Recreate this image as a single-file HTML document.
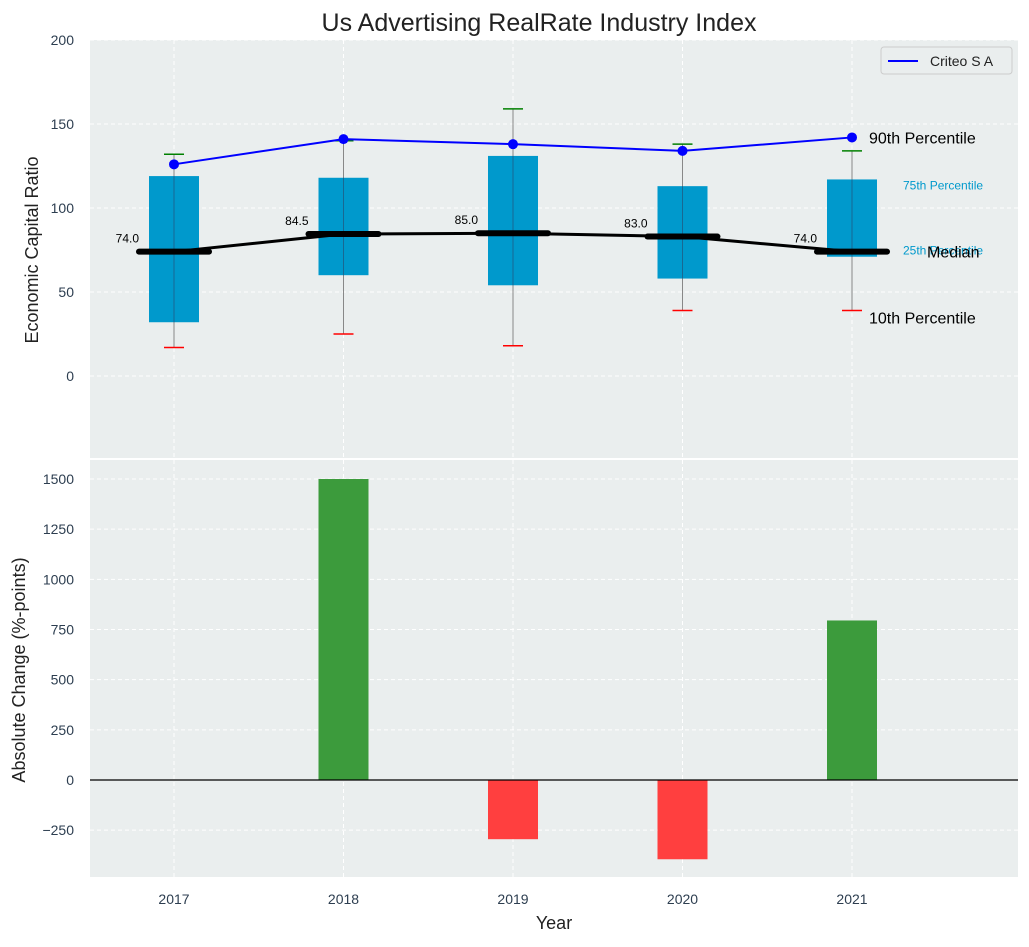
<!DOCTYPE html>
<html><head><meta charset="utf-8"><style>
body{margin:0;background:#fff;font-family:"Liberation Sans","DejaVu Sans",sans-serif;}
</style></head><body>
<svg id="c" width="1029" height="942" xmlns="http://www.w3.org/2000/svg"></svg>
<script>
const years=[2017,2018,2019,2020,2021];
const q10=[17,25,18,39,39];
const q25=[32,60,54,58,71];
const medians=[74,84.5,85,83,74];
const q75=[119,118,131,113,117];
const q90=[132,140,159,138,134];
const criteo=[126,141,138,134,142];
const changes=[0,1500,-295,-395,795];
const topTicks=[0,50,100,150,200];
const botTicks=[-250,0,250,500,750,1000,1250,1500];
const NS="http://www.w3.org/2000/svg";
const svg=document.getElementById('c');
function el(t,a,txt){const e=document.createElementNS(NS,t);for(const k in a)e.setAttribute(k,a[k]);if(txt!==undefined)e.textContent=txt;svg.appendChild(e);return e;}
const L=90,R=1018;
const x=v=>174+(v-2017)*169.5;
const yT=v=>376-v*1.68;
const yB=v=>780-v*(301/1500);
let e;
e=el('rect',{x:L,y:40,width:R-L,height:418,fill:'#eaeeee'});

e=el('rect',{x:L,y:460,width:R-L,height:417,fill:'#eaeeee'});

topTicks.forEach(t=>{el('line',{x1:L,x2:R,y1:yT(t),y2:yT(t),stroke:'#fff','stroke-dasharray':'4,3'});
 e=el('text',{x:74,y:yT(t)+5,'text-anchor':'end','font-size':14,fill:'#2d3e50'},t);
 });
botTicks.forEach(t=>{el('line',{x1:L,x2:R,y1:yB(t),y2:yB(t),stroke:'#fff','stroke-dasharray':'4,3'});
 e=el('text',{x:74,y:yB(t)+5,'text-anchor':'end','font-size':14,fill:'#2d3e50'},t<0?'\u2212'+(-t):t);
 });
years.forEach(yr=>{el('line',{x1:x(yr),x2:x(yr),y1:40,y2:458,stroke:'#fff','stroke-dasharray':'4,3'});
 el('line',{x1:x(yr),x2:x(yr),y1:460,y2:877,stroke:'#fff','stroke-dasharray':'4,3'});
 e=el('text',{x:x(yr),y:904,'text-anchor':'middle','font-size':14,fill:'#2d3e50'},yr);
 });
const bw=50;
years.forEach((yr,i)=>{const cx=x(yr);
 el('line',{x1:cx,x2:cx,y1:yT(q10[i]),y2:yT(q90[i]),stroke:'#888','stroke-width':1});
 e=el('rect',{x:cx-bw/2,y:yT(q75[i]),width:bw,height:yT(q25[i])-yT(q75[i]),fill:'#0099cc'});
 
 el('line',{x1:cx,x2:cx,y1:yT(q25[i]),y2:yT(q75[i]),stroke:'#335',"stroke-width":0.8,opacity:0.6});
 el('line',{x1:cx-10,x2:cx+10,y1:yT(q90[i]),y2:yT(q90[i]),stroke:'green','stroke-width':1.5});
 el('line',{x1:cx-10,x2:cx+10,y1:yT(q10[i]),y2:yT(q10[i]),stroke:'red','stroke-width':1.5});
 el('line',{x1:cx-35,x2:cx+35,y1:yT(medians[i]),y2:yT(medians[i]),stroke:'#000','stroke-width':6,'stroke-linecap':'round'});
 e=el('text',{x:cx-35,y:yT(medians[i])-9,'text-anchor':'end','font-size':12},medians[i].toFixed(1));
 
});
e=el('polyline',{points:years.map((yr,i)=>x(yr)+','+yT(medians[i])).join(' '),fill:'none',stroke:'#000','stroke-width':3});

e=el('polyline',{points:years.map((yr,i)=>x(yr)+','+yT(criteo[i])).join(' '),fill:'none',stroke:'blue','stroke-width':2});

years.forEach((yr,i)=>{e=el('circle',{cx:x(yr),cy:yT(criteo[i]),r:5,fill:'blue'});
 });
const lx=x(2021);
[[lx+17,yT(criteo[4])+6,'90th Percentile',16,'#000'],[lx+51,yT(q75[4])+10,'75th Percentile',12,'#0099cc'],
 [lx+51,yT(q25[4])-2,'25th Percentile',12,'#0099cc'],[lx+75,yT(medians[4])+6,'Median',16,'#000'],
 [lx+17,yT(q10[4])+13,'10th Percentile',16,'#000']].forEach(a=>{e=el('text',{x:a[0],y:a[1],'font-size':a[3],fill:a[4]},a[2]);
 });
years.forEach((yr,i)=>{const v=changes[i];if(v===0)return;
 e=el('rect',{x:x(yr)-bw/2,y:Math.min(yB(v),yB(0)),width:bw,height:Math.abs(yB(v)-yB(0)),fill:v>0?'#3c9b3c':'#ff3f3f'});
 });
el('line',{x1:L,x2:R,y1:yB(0),y2:yB(0),stroke:'#000','stroke-width':1.2});
e=el('rect',{x:881,y:47,width:131,height:27,fill:'#eaeeee',stroke:'#ccc',rx:3});

el('line',{x1:888,x2:918,y1:61,y2:61,stroke:'blue','stroke-width':2});
e=el('text',{x:930,y:66,'font-size':14,fill:'#222'},'Criteo S A');

e=el('text',{x:539,y:31,'text-anchor':'middle','font-size':25,fill:'#222'},'Us Advertising RealRate Industry Index');

e=el('text',{x:38,y:250,'text-anchor':'middle','font-size':18,fill:'#222',transform:'rotate(-90 38 250)'},'Economic Capital Ratio');

e=el('text',{x:25,y:670,'text-anchor':'middle','font-size':18,fill:'#222',transform:'rotate(-90 25 670)'},'Absolute Change (%-points)');

e=el('text',{x:554,y:929,'text-anchor':'middle','font-size':18,fill:'#222'},'Year');

</script>
</body></html>
